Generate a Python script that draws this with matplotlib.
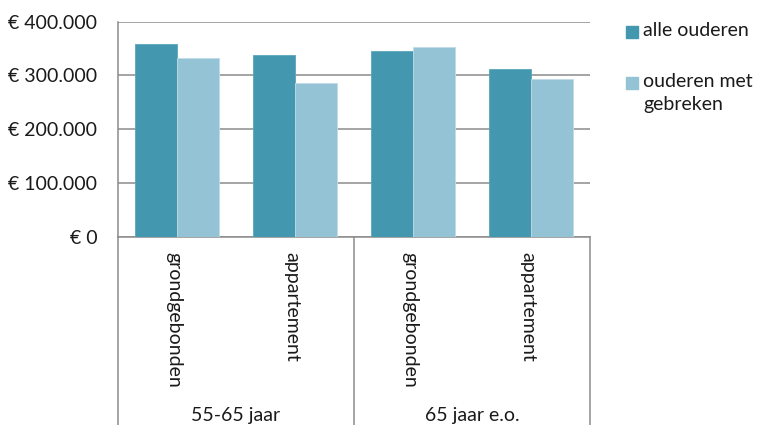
import numpy as np
import matplotlib.pyplot as plt
from matplotlib.patches import Rectangle
from matplotlib.ticker import FuncFormatter

# Woonwaarde per leeftijdsgroep en woningtype
groepen = ['55-65 jaar', '65 jaar e.o.']
woningtypen = ['grondgebonden', 'appartement', 'grondgebonden', 'appartement']
alle_ouderen = [358000, 338000, 345000, 312000]
ouderen_gebreken = [333000, 286000, 353000, 293000]
series_namen = ['alle ouderen', 'ouderen met\ngebreken']

donker = '#4398AF'
licht = '#93C3D5'
lijn = '#8C8C8C'
tekst = '#1a1a1a'
fs = 14

plt.rcParams['font.family'] = ['Lato', 'DejaVu Sans']

fig = plt.figure(figsize=(7.57, 4.25), dpi=100)
W, H = 757, 425
left, right, top, bottom = 118, 590, 21.7, 236.7
ax = fig.add_axes([left / W, 1 - bottom / H, (right - left) / W, (bottom - top) / H])

x = np.arange(len(woningtypen))
w = 0.359
ax.bar(x - w / 2, alle_ouderen, w, color=donker, edgecolor='#5AA6BB', linewidth=0.6, zorder=3)
ax.bar(x + w / 2, ouderen_gebreken, w, color=licht, edgecolor='#BFDCE6', linewidth=0.6, zorder=3)

ax.set_xlim(-0.5, len(woningtypen) - 0.5)
ax.set_ylim(0, 400000)
ax.set_yticks([0, 100000, 200000, 300000, 400000])
ax.yaxis.set_major_formatter(FuncFormatter(
    lambda v, p: '€ ' + ('0' if v == 0 else f'{int(v):,}'.replace(',', '.'))))
ax.tick_params(axis='y', length=0, pad=15, labelsize=fs, colors=tekst)
ax.set_xticks([])
ax.grid(axis='y', color=lijn, linewidth=1.1, zorder=0)

for s in ['top', 'right']:
    ax.spines[s].set_visible(False)
for s in ['left', 'bottom']:
    ax.spines[s].set_color(lijn)
    ax.spines[s].set_linewidth(1.1)

# lijnen van de categorie-as onder het plotvlak
trans = ax.get_xaxis_transform()
diepte = (H - bottom) / (bottom - top)
for xs in [-0.5, 1.5, 3.5]:
    ax.plot([xs, xs], [0, -diepte - 0.05], color=lijn, linewidth=1.1,
            transform=trans, clip_on=False)

# woningtype labels (verticaal)
for xi, t in zip(x, woningtypen):
    ax.text(xi - 0.03, -0.07, t, rotation=270, ha='center', va='top',
            fontsize=fs, color=tekst, transform=trans)

# leeftijdsgroep labels
for gi, g in enumerate(groepen):
    ax.text(gi * 2 + 0.5, -(416 - bottom) / (bottom - top), g, ha='center', va='center',
            fontsize=fs, color=tekst, transform=trans)

# legenda rechts naast de grafiek (pixelposities vanaf linksboven)
for (ytop, kleur, naam) in [(26, donker, series_namen[0]), (77, licht, series_namen[1])]:
    fig.add_artist(Rectangle((626 / W, 1 - (ytop + 12) / H), 12 / W, 12 / H,
                             transform=fig.transFigure, color=kleur))
    fig.text(643 / W, 1 - (ytop - 4) / H, naam, ha='left', va='top',
             fontsize=fs, color=tekst, linespacing=1.45)

fig.savefig('out.png', dpi=100)
